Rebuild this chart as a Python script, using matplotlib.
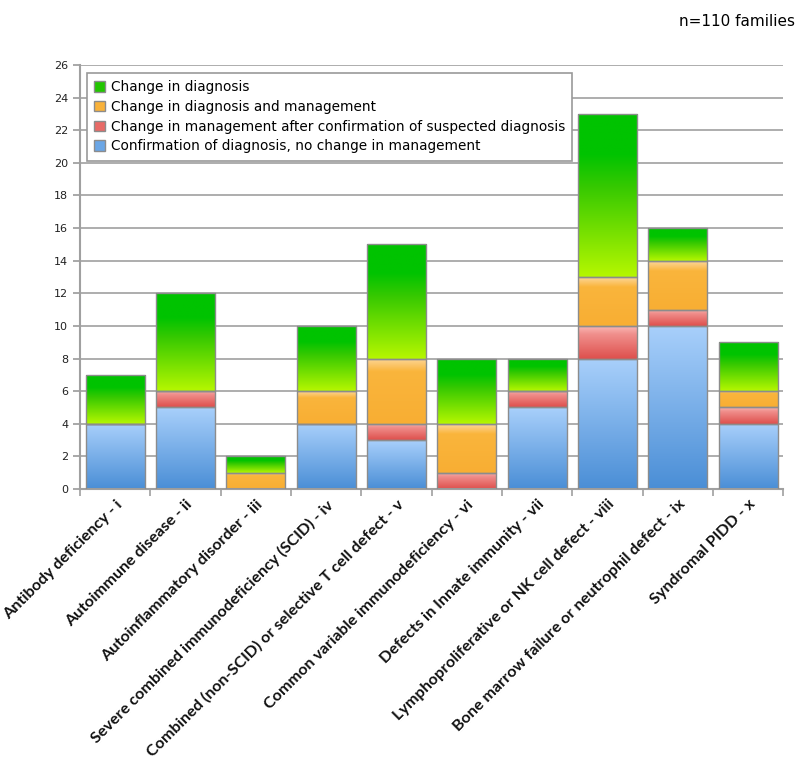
import matplotlib
matplotlib.use("Agg")
from matplotlib import pyplot as plt
from matplotlib.colors import LinearSegmentedColormap
from matplotlib.patches import Patch
import numpy as np

categories = [
    "Antibody deficiency - i",
    "Autoimmune disease - ii",
    "Autoinflammatory disorder - iii",
    "Severe combined immunodeficiency (SCID) - iv",
    "Combined (non-SCID) or selective T cell defect - v",
    "Common variable immunodeficiency - vi",
    "Defects in Innate immunity - vii",
    "Lymphoproliferative or NK cell defect - viii",
    "Bone marrow failure or neutrophil defect - ix",
    "Syndromal PIDD - x",
]
confirm = [4, 5, 0, 4, 3, 0, 5, 8, 10, 4]
mgmt = [0, 1, 0, 0, 1, 1, 1, 2, 1, 1]
diag_mgmt = [0, 0, 1, 2, 4, 3, 0, 3, 3, 1]
diag = [3, 6, 1, 4, 7, 4, 2, 10, 2, 3]

series = [
    ("Confirmation of diagnosis, no change in management", confirm),
    ("Change in management after confirmation of suspected diagnosis", mgmt),
    ("Change in diagnosis and management", diag_mgmt),
    ("Change in diagnosis", diag),
]
# gradient stops, bottom -> top
grads = [
    [(0, "#4a8ed6"), (1, "#a9d0fb")],
    [(0, "#de4f4c"), (0.75, "#f08f8c"), (1, "#f9b8b4")],
    [(0, "#f8ae33"), (0.8, "#fab53c"), (1, "#fdd79a")],
    [(0, "#b6f700"), (0.55, "#36c900"), (0.75, "#00c300"), (1, "#00c300")],
]
solid = ["#6aa6e6", "#e86a66", "#f9b23a", "#22c600"]

fig = plt.figure(figsize=(8, 7.66), dpi=100)
ax = fig.add_axes([0.1, 0.3616, 0.879, 0.5535])

x = np.arange(len(categories))
grad = np.linspace(0, 1, 256).reshape(-1, 1)
bottom = np.zeros(len(categories))
for (name, vals), stops in zip(series, grads):
    cmap = LinearSegmentedColormap.from_list(name, stops)
    bars = ax.bar(x, vals, 0.84, bottom=bottom, color="none",
                  edgecolor="#8c8c8c", linewidth=1.0, zorder=3)
    for b in bars:
        if b.get_height() == 0:
            continue
        x0, y0 = b.get_x(), b.get_y()
        im = ax.imshow(grad, cmap=cmap, origin="lower", aspect="auto",
                       extent=[x0, x0 + b.get_width(), y0, y0 + b.get_height()],
                       zorder=2, interpolation="bilinear")
        im.set_clip_path(b)
    bottom += np.array(vals)

ax.set_xlim(-0.5, len(categories) - 0.5)
ax.set_ylim(0, 26)
ax.set_yticks(np.arange(0, 27, 2))
ax.tick_params(axis="y", labelsize=8, colors="#999999", labelcolor="#222222",
               length=5, width=1.2)
ax.grid(axis="y", color="#a0a0a0", linewidth=1.2, zorder=0)
ax.set_axisbelow(True)
for s in ["top", "right"]:
    ax.spines[s].set_visible(False)
for s in ["left", "bottom"]:
    ax.spines[s].set_color("#a0a0a0")
    ax.spines[s].set_linewidth(1.5)

ax.set_xticks(np.arange(-0.5, len(categories), 1), minor=False)
ax.set_xticklabels([])
ax.tick_params(axis="x", length=5, width=1.2, colors="#a0a0a0")
ax.set_xticks(x, minor=True)
ax.set_xticklabels(categories, minor=True, rotation=45, ha="right",
                   rotation_mode="anchor", fontsize=11.6, fontweight="bold",
                   family="Lato", color="#111111")
ax.tick_params(axis="x", which="minor", length=0, pad=6)

handles = [Patch(facecolor=c, edgecolor="#8c8c8c") for c in solid[::-1]]
labels = [s[0] for s in series[::-1]]
leg = ax.legend(handles, labels, loc="upper left", bbox_to_anchor=(0.0, 0.998),
                prop={"size": 9.8}, fancybox=False, edgecolor="#999999",
                handlelength=0.8, handleheight=0.8, handletextpad=0.4,
                labelspacing=0.42, borderpad=0.55, framealpha=1)
leg.get_frame().set_linewidth(1.2)

fig.text(0.994, 0.972, "n=110 families", ha="right", va="center", fontsize=11)

fig.savefig("out.png", dpi=100)
